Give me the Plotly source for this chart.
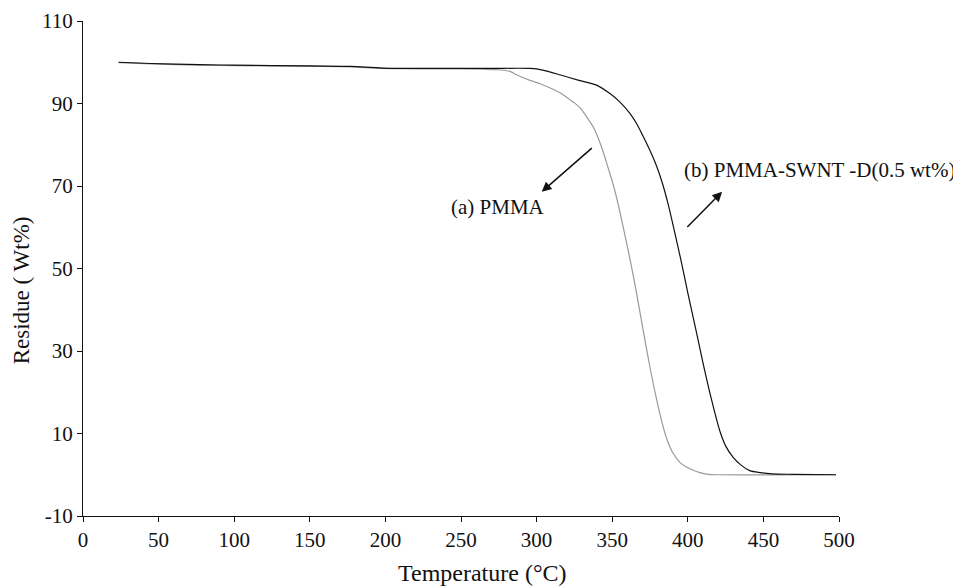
import plotly.graph_objects as go

# (b) PMMA-SWNT-D (0.5 wt%)  -- black curve
temp_b = [23.5, 45, 77, 100, 150, 177, 198, 240, 270, 296, 304, 316, 328, 340, 348.5, 355,
          361.7, 366, 370.5, 375, 379.4, 383, 387, 391, 395.9, 400, 405.8, 410, 415.7,
          421.2, 425, 430, 435, 441, 448, 455.4, 470, 498]
res_b = [100, 99.7, 99.4, 99.3, 99.1, 99.0, 98.6, 98.5, 98.5, 98.5, 98.1, 96.9, 95.6, 94.4,
         92.4, 90.4, 87.6, 85.2, 82.0, 78.6, 74.8, 70.9, 65.6, 59.3, 51.3, 44.1, 34.4, 27.2,
         18.2, 10.6, 7.0, 4.2, 2.4, 1.0, 0.5, 0.2, 0.1, 0.0]

# (a) PMMA -- grey curve
temp_a = [23.5, 45, 77, 100, 150, 177, 198, 240, 265, 273.6, 282.4, 287, 295.6, 302.3, 315.5,
          324, 328.7, 333, 337.5, 340, 344, 347, 350.7, 354, 358, 362.8, 366, 370.5, 375,
          379.4, 383, 386, 390, 394.8, 400, 403.6, 408, 413.5, 420, 498]
res_a = [99.9, 99.6, 99.3, 99.2, 99.0, 98.9, 98.5, 98.4, 98.3, 98.2, 97.8, 96.9, 95.6, 94.8,
         92.6, 90.4, 89.0, 86.8, 84.3, 82.3, 78.3, 74.8, 70.3, 65.5, 58.8, 50.4, 44.2, 35.0,
         26.0, 18.2, 12.6, 8.8, 5.4, 3.0, 1.7, 1.1, 0.5, 0.1, 0.0, 0.0]

x_ticks = [0, 50, 100, 150, 200, 250, 300, 350, 400, 450, 500]
y_ticks = [-10, 10, 30, 50, 70, 90, 110]
y_tick_text = ["-10", "10", "30", "50", "70", "90", "110"]

label_a = "(a) PMMA"
label_b = "(b) PMMA-SWNT -D(0.5 wt%)"
x_title = "Temperature (°C)"
y_title = "Residue ( Wt%)"

FONT = "Liberation Serif, Times New Roman, serif"

fig = go.Figure()
fig.add_trace(go.Scatter(x=temp_a, y=res_a, mode="lines",
                         line=dict(color="#9a9a9a", width=1.2, shape="spline", smoothing=0.8),
                         name=label_a))
fig.add_trace(go.Scatter(x=temp_b, y=res_b, mode="lines",
                         line=dict(color="#111111", width=1.2, shape="spline", smoothing=0.8),
                         name=label_b))

# arrows
fig.add_annotation(x=303.4, y=68.6, ax=337.5, ay=79.5, xref="x", yref="y",
                   axref="x", ayref="y", text="", showarrow=True,
                   arrowhead=2, arrowsize=1.3, arrowwidth=1.5, arrowcolor="#111")
fig.add_annotation(x=422.7, y=68.6, ax=398.7, ay=59.7, xref="x", yref="y",
                   axref="x", ayref="y", text="", showarrow=True,
                   arrowhead=2, arrowsize=1.3, arrowwidth=1.5, arrowcolor="#111")
# labels
fig.add_annotation(x=274.2, y=65.0, xref="x", yref="y", text=label_a, showarrow=False,
                   font=dict(family=FONT, size=21, color="#111"))
fig.add_annotation(x=395.9, y=73.9, xref="x", yref="y", text=label_b, showarrow=False,
                   xanchor="left", font=dict(family=FONT, size=21, color="#111"))
# axis titles (centred on the chart area, as in the reference)
fig.add_annotation(x=0.529, y=-0.115, xref="paper", yref="paper", text=x_title,
                   showarrow=False, xanchor="center", yanchor="middle",
                   font=dict(family=FONT, size=24, color="#111"))
fig.add_annotation(x=-0.082, y=0.456, xref="paper", yref="paper", text=y_title,
                   showarrow=False, xanchor="center", yanchor="middle", textangle=-90,
                   borderpad=0,
                   font=dict(family=FONT, size=23, color="#111"))

# page body has an 8px default margin, so the figure is 8px smaller and margins shifted
fig.update_layout(
    width=953, height=578,
    margin=dict(l=75, r=122, t=13, b=70),
    plot_bgcolor="white", paper_bgcolor="white",
    showlegend=False,
    font=dict(family=FONT, size=21, color="#111"),
    xaxis=dict(range=[0, 500], tickvals=x_ticks, ticks="outside", ticklen=5,
               tickcolor="#111", showline=True, linecolor="#111", linewidth=1,
               showgrid=False, zeroline=False, automargin=False,
               tickfont=dict(family=FONT, size=21)),
    yaxis=dict(range=[-10, 110], tickvals=y_ticks, ticktext=y_tick_text,
               ticks="outside", ticklen=5,
               tickcolor="#111", showline=True, linecolor="#111", linewidth=1,
               showgrid=False, zeroline=False, automargin=False,
               tickfont=dict(family=FONT, size=21)),
)

fig.write_html("out.html")
